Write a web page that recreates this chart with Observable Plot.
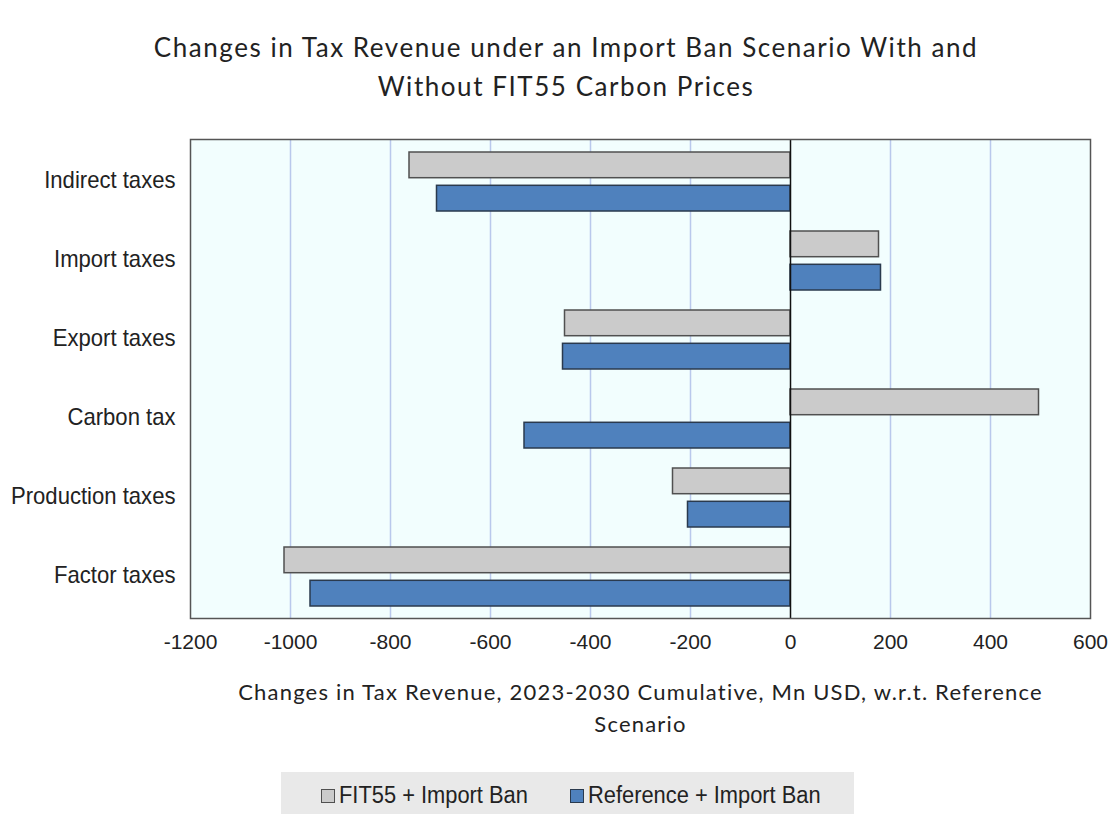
<!DOCTYPE html>
<html>
<head>
<meta charset="utf-8">
<script src="https://cdn.jsdelivr.net/npm/d3@7"></script>
<script src="https://cdn.jsdelivr.net/npm/@observablehq/plot@0.6"></script>
<style>
  body { margin: 0; background: #fff; }
  #wrap { position: relative; width: 1112px; height: 814px; overflow: hidden; }
  #title { height: 122px; box-sizing: border-box; padding-top: 28px; text-align: center;
    font-family: Lato, "Open Sans", sans-serif; font-size: 26px; letter-spacing: 1.55px; line-height: 39px; color: #222;
    padding-left: 20px; }
  #legend { position: absolute; left: 281px; top: 772px; width: 573px; height: 44px; background: #e9e9e9;
    font-family: "Liberation Sans", sans-serif; font-size: 23px; color: #222; }
  .item { position: absolute; top: 10px; display: flex; align-items: center; }
  .sw { width: 12px; height: 12px; border: 1.5px solid #444; margin-right: 4px; }
  .lt { display: inline-block; transform: scaleX(0.95); transform-origin: left center; }
</style>
</head>
<body>
<div id="wrap">
  <div id="title">Changes in Tax Revenue under an Import Ban Scenario With and<br>Without FIT55 Carbon Prices</div>
  <div id="chart"></div>
  <div id="legend"></div>
</div>
<script>
const categories = ["Indirect taxes", "Import taxes", "Export taxes", "Carbon tax", "Production taxes", "Factor taxes"];
const seriesNames = ["FIT55 + Import Ban", "Reference + Import Ban"];
const fit55 = [-762, 177, -451, 497, -235, -1012];
const reference = [-707, 181, -455, -532, -205, -960];
const xTicks = [-1200, -1000, -800, -600, -400, -200, 0, 200, 400, 600];
const xLabel = "Changes in Tax Revenue, 2023-2030 Cumulative, Mn USD, w.r.t. Reference\nScenario";
const colors = ["#cbcbcb", "#4f81bd"];
const strokes = ["#505050", "#2a3a4e"];

const fitData = categories.map((c, i) => ({category: c, value: fit55[i], series: seriesNames[0]}));
const refData = categories.map((c, i) => ({category: c, value: reference[i], series: seriesNames[1]}));

const sans = '"Liberation Sans", sans-serif';

const chart = Plot.plot({
  width: 1112,
  height: 640,
  marginTop: 17,
  marginBottom: 144,
  marginLeft: 190,
  marginRight: 22,
  style: { fontFamily: sans, fontSize: "21px", color: "#222", background: "transparent" },
  x: { domain: [-1200, 600], ticks: xTicks, tickFormat: d => String(d), tickSize: 0, tickPadding: 16, label: null },
  y: { domain: categories, padding: 0, tickSize: 0, tickPadding: 15, label: null },
  marks: [
    Plot.frame({ fill: "#f2fefe", stroke: null }),
    Plot.ruleX(xTicks.filter(d => d !== 0 && d !== -1200 && d !== 600), { stroke: "#b9c8ec", strokeWidth: 1.5 }),
    Plot.barX(fitData, { y: "category", x: "value", fill: colors[0], stroke: strokes[0], strokeWidth: 1.5, insetTop: 10, insetBottom: 43.3 }),
    Plot.barX(refData, { y: "category", x: "value", fill: colors[1], stroke: strokes[1], strokeWidth: 1.5, insetTop: 43.3, insetBottom: 10 }),
    Plot.ruleX([0], { stroke: "#111", strokeWidth: 1.5 }),
    Plot.frame({ stroke: "#555", strokeWidth: 1.5 }),
    Plot.axisY({ fontSize: "24px", tickSize: 0, tickPadding: 15, dy: -1.5 }),
    Plot.text([xLabel], { frameAnchor: "bottom", lineAnchor: "top", dy: 59, lineHeight: 1.45, fontSize: 22, fontFamily: 'Lato, "Open Sans", sans-serif', fill: "#222" })
  ]
});
document.getElementById("chart").appendChild(chart);

// narrow the y tick labels to mimic a condensed face
d3.select(chart).selectAll('g[aria-label="y-axis tick label"] text').each(function() {
  const len = this.getComputedTextLength();
  this.setAttribute("lengthAdjust", "spacingAndGlyphs");
  this.setAttribute("textLength", (len * 0.92).toFixed(1));
});
d3.select(chart).selectAll('g[aria-label="text"] text').style("letter-spacing", "1.2px");

const legend = document.getElementById("legend");
const lefts = [40, 289];
seriesNames.forEach((name, i) => {
  const it = document.createElement("div");
  it.className = "item";
  it.style.left = lefts[i] + "px";
  const sw = document.createElement("div");
  sw.className = "sw";
  sw.style.background = colors[i];
  sw.style.borderColor = strokes[i];
  it.appendChild(sw);
  const t = document.createElement("span");
  t.className = "lt";
  t.textContent = name;
  it.appendChild(t);
  legend.appendChild(it);
});
</script>
</body>
</html>
